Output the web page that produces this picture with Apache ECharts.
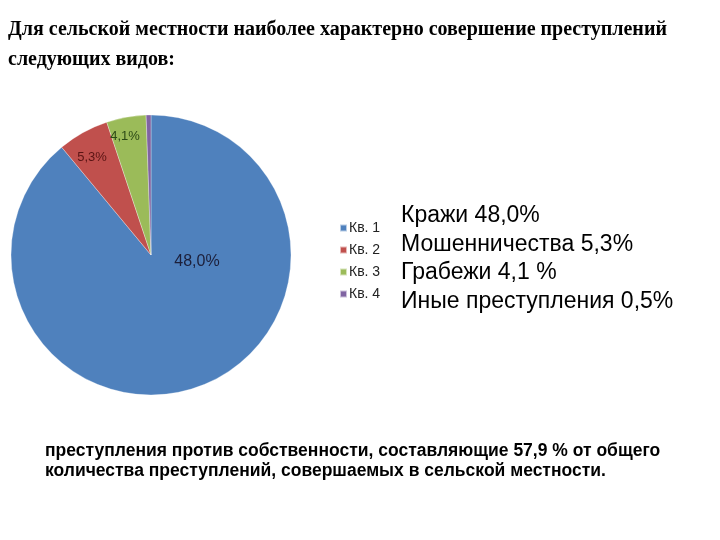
<!DOCTYPE html>
<html><head><meta charset="utf-8">
<script src="https://cdn.jsdelivr.net/npm/echarts@6/dist/echarts.min.js"></script>
<style>html,body{margin:0;padding:0;background:#fff}#c{width:720px;height:540px}</style>
</head><body><div id="c"></div>
<script>
// Legend categories
const categories = ['Кв. 1', 'Кв. 2', 'Кв. 3', 'Кв. 4'];
// Slice sizes
const pieValues = [80, 5.3, 4.1, 0.5];
// Labels printed on the slices
const sliceLabels = ['48,0%', '5,3%', '4,1%'];
// Text list on the right
const crimeNames = ['Кражи', 'Мошенничества', 'Грабежи', 'Иные преступления'];
const crimeShares = ['48,0%', '5,3%', '4,1 %', '0,5%'];
const colors = ['#4F81BD', '#C0504D', '#9BBB59', '#8064A2'];

const chart = echarts.init(document.getElementById('c'), null, {renderer: 'canvas'});

const graphics = [
  {type: 'text', left: 8, top: 20, style: {text: 'Для сельской местности наиболее характерно совершение преступлений', font: 'bold 20px "Liberation Serif", serif', fill: '#000'}},
  {type: 'text', left: 8, top: 50, style: {text: 'следующих видов:', font: 'bold 20px "Liberation Serif", serif', fill: '#000'}},
  {type: 'text', left: 45, top: 442, style: {text: 'преступления против собственности, составляющие 57,9 % от общего', font: 'bold 17.5px "Liberation Sans", Arial, sans-serif', fill: '#000'}},
  {type: 'text', left: 45, top: 462, style: {text: 'количества преступлений, совершаемых в сельской местности.', font: 'bold 17.5px "Liberation Sans", Arial, sans-serif', fill: '#000'}},
  {type: 'text', z: 100, x: 197, y: 262, style: {text: sliceLabels[0], font: '16px "Liberation Sans", sans-serif', fill: '#1c1f3a', align: 'center', verticalAlign: 'middle'}},
  {type: 'text', z: 100, x: 92, y: 157, style: {text: sliceLabels[1], font: '13px "Liberation Sans", sans-serif', fill: '#5a1414', align: 'center', verticalAlign: 'middle'}},
  {type: 'text', z: 100, x: 125, y: 136, style: {text: sliceLabels[2], font: '13px "Liberation Sans", sans-serif', fill: '#2c4a16', align: 'center', verticalAlign: 'middle'}}
];
const rowCenters = [215.7, 245, 272.7, 301.7];
crimeNames.forEach((n, i) => {
  graphics.push({type: 'text', left: 401, top: rowCenters[i] - 11.5, style: {text: n + ' ' + crimeShares[i], font: '23px "Liberation Sans", Arial, sans-serif', fill: '#000'}});
});

chart.setOption({
  animation: false,
  color: colors,
  legend: {
    orient: 'vertical', left: 334, top: 215,
    itemWidth: 7, itemHeight: 7, itemGap: 6,
    icon: 'rect',
    data: categories,
    textStyle: {fontFamily: '"Liberation Sans", sans-serif', fontSize: 14, color: '#222', lineHeight: 16, padding: [0, 0, 0, -3]}
  },
  series: [{
    type: 'pie',
    center: [151, 255],
    radius: [0, 140],
    startAngle: 90,
    clockwise: true,
    label: {show: false},
    labelLine: {show: false},
    itemStyle: {borderColor: 'rgba(255,255,255,0.6)', borderWidth: 0.5},
    data: categories.map((c, i) => ({name: c, value: pieValues[i]}))
  }],
  graphic: {elements: graphics}
});
</script></body></html>
